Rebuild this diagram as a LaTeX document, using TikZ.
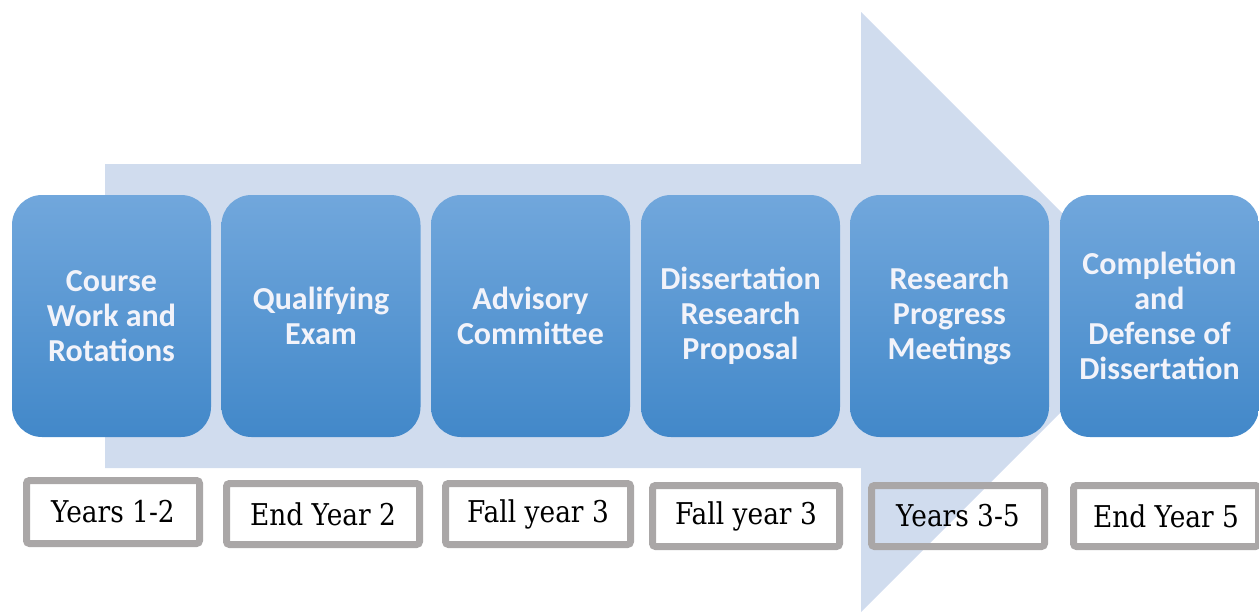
\documentclass[tikz,border=0pt]{standalone}
\usepackage{fontspec}
\newfontfamily\stagefont{Carlito}
\newfontfamily\datefont[FakeStretch=0.88]{DejaVu Serif}
\definecolor{arrowblue}{RGB}{208,220,238}
\definecolor{boxtop}{RGB}{113,167,220}
\definecolor{boxbottom}{RGB}{66,136,201}
\definecolor{boxtext}{RGB}{242,243,250}
\definecolor{framegrey}{RGB}{170,167,167}

\begin{document}
\begin{tikzpicture}[x=1pt, y=-1pt,
  stage/.style={rectangle, rounded corners=30pt, minimum width=199pt,
    minimum height=242pt, top color=boxtop, bottom color=boxbottom,
    text=boxtext, align=center, inner sep=0pt,
    font=\stagefont\bfseries\fontsize{32}{35}\selectfont},
  when/.style={rectangle, draw=framegrey, line width=7pt, rounded corners=3pt,
    inner sep=0pt, font=\datefont\fontsize{30}{34}\selectfont}]
\useasboundingbox (0,0) rectangle (1259,613);
% big arrow behind everything
\fill[arrowblue] (105,164) -- (861,164) -- (861,12) -- (1161,312)
  -- (861,612) -- (861,468) -- (105,468) -- cycle;
% stages
\node[stage] (course)   at (111.5,316) {Course\\Work and\\Rotations};
\node[stage] (qual)     at (321,316)   {Qualifying\\Exam};
\node[stage] (advisory) at (530.5,316) {Advisory\\Committee};
\node[stage] (proposal) at (740.5,316) {Dissertation\\Research\\Proposal};
\node[stage] (progress) at (949.5,316) {Research\\Progress\\Meetings};
\node[stage] (defense)  at (1159.5,316) {Completion\\and\\Defense of\\Dissertation};
% timing
\node[when, minimum width=173pt, minimum height=63pt] (t1) at (113,512) {Years 1-2};
\node[when, minimum width=193pt, minimum height=61pt] (t2) at (323,514) {End Year 2};
\node[when, minimum width=185pt, minimum height=61pt] (t3) at (538,514) {Fall year 3};
\node[when, minimum width=187pt, minimum height=61pt] (t4) at (746,516) {Fall year 3};
\node[when, minimum width=173pt, minimum height=61pt] (t5) at (958,516) {Years 3-5};
\node[when, minimum width=185pt, minimum height=61pt] (t6) at (1166,516) {End Year 5};
\end{tikzpicture}
\end{document}
